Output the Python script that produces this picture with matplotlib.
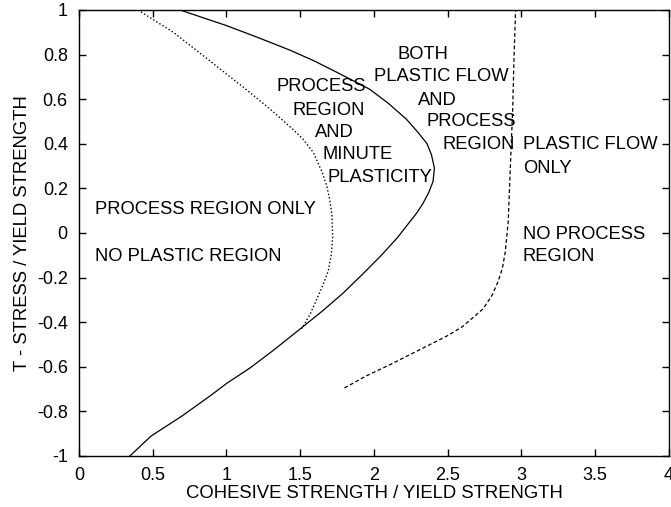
import numpy as np
import matplotlib
matplotlib.use("Agg")
from matplotlib import pyplot as plt

plt.rcParams['font.family'] = ['Liberation Sans', 'DejaVu Sans']

# boundary: plastic flow present (solid)
plastic_x = [0.685, 1.0, 1.20, 1.43, 1.60, 1.75, 1.97, 2.10, 2.22, 2.30, 2.36, 2.39, 2.41,
             2.40, 2.37, 2.33, 2.29, 2.16, 2.05, 1.93, 1.79, 1.65, 1.50, 1.32, 1.16,
             1.0, 0.89, 0.70, 0.49, 0.345]
plastic_y = [1.0, 0.93, 0.88, 0.82, 0.77, 0.72, 0.645, 0.58, 0.51, 0.45, 0.40, 0.35, 0.29,
             0.23, 0.18, 0.13, 0.09, -0.02, -0.10, -0.18, -0.27, -0.35, -0.43, -0.525, -0.605,
             -0.675, -0.73, -0.82, -0.91, -1.0]

# boundary: minute plasticity (dotted)
minute_x = [0.40, 0.64, 0.91, 1.14, 1.26, 1.34, 1.45, 1.52, 1.59, 1.65, 1.68, 1.70, 1.715,
            1.72, 1.71, 1.69, 1.65, 1.57, 1.51]
minute_y = [1.0, 0.90, 0.76, 0.64, 0.575, 0.53, 0.465, 0.42, 0.36, 0.27, 0.21, 0.15, 0.08,
            -0.02, -0.10, -0.17, -0.24, -0.36, -0.43]

# boundary: process region present (dashed)
process_x = [1.80, 1.95, 2.11, 2.38, 2.50, 2.60, 2.74, 2.80, 2.84, 2.87, 2.89, 2.91,
             2.92, 2.94, 2.95, 2.96]
process_y = [-0.695, -0.64, -0.59, -0.50, -0.46, -0.42, -0.34, -0.28, -0.22, -0.16, -0.085, 0.05,
             0.22, 0.55, 0.8, 1.0]

fig = plt.figure(figsize=(6.71, 5.07), dpi=100)
ax = fig.add_axes([0.1177, 0.1006, 0.8793, 0.8797])

ax.plot(plastic_x, plastic_y, color='black', lw=0.9)
ax.plot(minute_x, minute_y, color='black', lw=1.0, linestyle=(0, (1, 1.6)))
ax.plot(process_x, process_y, color='black', lw=0.9, linestyle=(0, (3, 2)))

ax.set_xlim(0, 4)
ax.set_ylim(-1, 1)
ax.set_xticks(np.arange(0, 4.01, 0.5))
ax.set_xticklabels(['0', '0.5', '1', '1.5', '2', '2.5', '3', '3.5', '4'])
ax.set_yticks(np.arange(-1, 1.01, 0.2))
ax.set_yticklabels(['-1', '-0.8', '-0.6', '-0.4', '-0.2', '0', '0.2', '0.4', '0.6', '0.8', '1'])
ax.tick_params(direction='in', top=True, right=True, length=5, width=1,
               labelsize=13, pad=8)
for s in ax.spines.values():
    s.set_linewidth(1.0)

ax.set_xlabel('COHESIVE STRENGTH / YIELD STRENGTH', fontsize=13.3, labelpad=1)
ax.set_ylabel('T - STRESS / YIELD STRENGTH', fontsize=13.3, labelpad=4)

fs = 13.2
# left region
ax.text(0.11, 0.105, 'PROCESS REGION ONLY', fontsize=fs, va='center')
ax.text(0.11, -0.105, 'NO PLASTIC REGION', fontsize=fs, va='center')
# middle-left region
ax.text(1.64, 0.655, 'PROCESS', fontsize=fs, ha='center', va='center')
ax.text(1.69, 0.55, 'REGION', fontsize=fs, ha='center', va='center')
ax.text(1.73, 0.45, 'AND', fontsize=fs, ha='center', va='center')
ax.text(1.89, 0.35, 'MINUTE', fontsize=fs, ha='center', va='center')
ax.text(2.04, 0.25, 'PLASTICITY', fontsize=fs, ha='center', va='center')
# middle region
ax.text(2.33, 0.8, 'BOTH', fontsize=fs, ha='center', va='center')
ax.text(2.455, 0.70, 'PLASTIC FLOW', fontsize=fs, ha='center', va='center')
ax.text(2.43, 0.595, 'AND', fontsize=fs, ha='center', va='center')
ax.text(2.66, 0.50, 'PROCESS', fontsize=fs, ha='center', va='center')
ax.text(2.71, 0.395, 'REGION', fontsize=fs, ha='center', va='center')
# right region
ax.text(3.01, 0.395, 'PLASTIC FLOW', fontsize=fs, va='center')
ax.text(3.01, 0.29, 'ONLY', fontsize=fs, va='center')
ax.text(3.01, -0.005, 'NO PROCESS', fontsize=fs, va='center')
ax.text(3.01, -0.105, 'REGION', fontsize=fs, va='center')

fig.savefig('out.png', dpi=100)
